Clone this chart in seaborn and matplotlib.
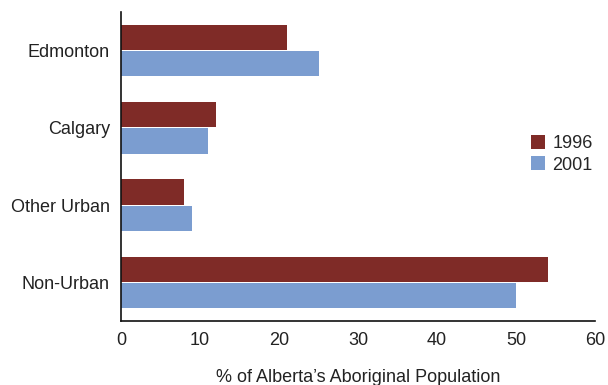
import matplotlib
matplotlib.use("Agg")
import matplotlib.pyplot as plt
import seaborn as sns
import pandas as pd

categories = ["Edmonton", "Calgary", "Other Urban", "Non-Urban"]
years = ["1996", "2001"]
values_1996 = [21, 12, 8, 54]
values_2001 = [25, 11, 9, 50]
colors = ["#7F2B27", "#7B9DD0"]

df = pd.DataFrame({
    "Region": categories * 2,
    "Year": [years[0]] * 4 + [years[1]] * 4,
    "Value": values_1996 + values_2001,
})

sns.set_style("white")
plt.rcParams["font.family"] = ["Liberation Sans", "DejaVu Sans"]

fs = 13
fig = plt.figure(figsize=(6.08, 3.85), dpi=100)
ax = fig.add_axes([121/608, 1 - 321/385, (595-121)/608, (321-12)/385])

sns.barplot(data=df, y="Region", x="Value", hue="Year", order=categories,
            hue_order=years, palette=colors, orient="h", ax=ax,
            width=0.68, gap=0.04, saturation=1, linewidth=0)

ax.set_xlim(0, 60)
ax.set_ylim(3.5, -0.5)
ax.set_xticks([0, 10, 20, 30, 40, 50, 60])
ax.set_xlabel("% of Alberta\u2019s Aboriginal Population", fontsize=fs, color="#222222", labelpad=14)
ax.set_ylabel("")
ax.tick_params(axis="both", length=0, labelsize=fs, colors="#222222")
ax.tick_params(axis="x", pad=8)
ax.tick_params(axis="y", pad=8)
for s in ["top", "right"]:
    ax.spines[s].set_visible(False)
for s in ["left", "bottom"]:
    ax.spines[s].set_color("#111111")
    ax.spines[s].set_linewidth(1.2)

leg = ax.legend(title=None, loc="center left", bbox_to_anchor=(0.83, 0.54),
                frameon=False, fontsize=fs, handlelength=0.8, handleheight=0.8,
                handletextpad=0.4, labelspacing=0.25)

fig.savefig("out.png", dpi=100)
